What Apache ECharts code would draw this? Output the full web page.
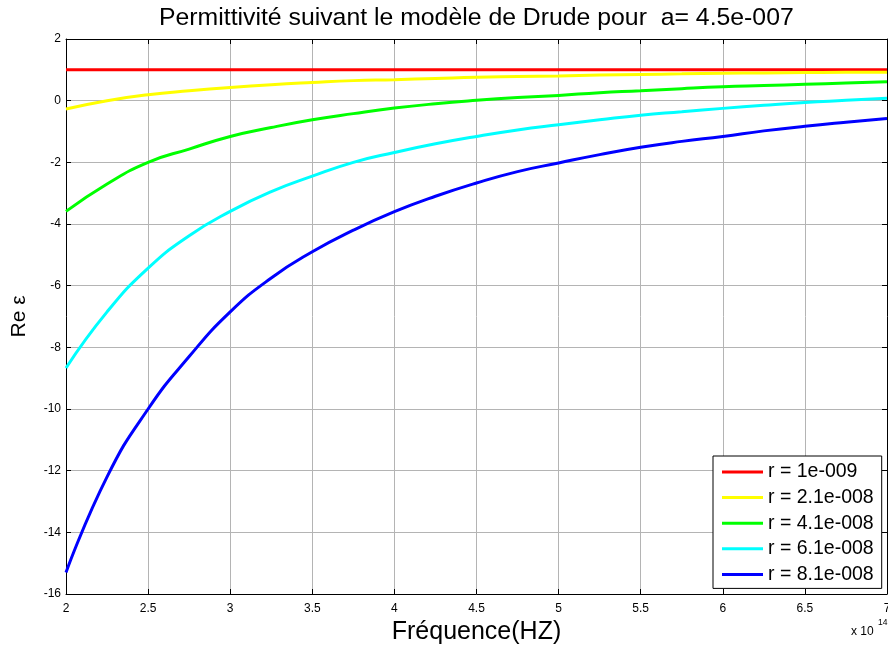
<!DOCTYPE html>
<html>
<head>
<meta charset="utf-8">
<script src="https://cdn.jsdelivr.net/npm/echarts@6/dist/echarts.min.js"></script>
<style>
html,body{margin:0;padding:0;background:#fff;}
#main{width:888px;height:646px;}
</style>
</head>
<body>
<div id="main"></div>
<script>
// fréquences (x 10^14 Hz)
var freq = [2, 2.25, 2.5, 2.75, 3, 3.25, 3.5, 3.75, 4, 4.25, 4.5, 4.75, 5, 5.25, 5.5, 5.75, 6, 6.25, 6.5, 6.75, 7];
var xTicks = ['2', '2.5', '3', '3.5', '4', '4.5', '5', '5.5', '6', '6.5', '7'];
var yTicks = ['-16', '-14', '-12', '-10', '-8', '-6', '-4', '-2', '0', '2'];

var names = ['r = 1e-009', 'r = 2.1e-008', 'r = 4.1e-008', 'r = 6.1e-008', 'r = 8.1e-008'];
var colors = ['#ff0000', '#ffff00', '#00ff00', '#00ffff', '#0000ff'];

var r1 = [1, 1, 1, 1, 1, 1, 1, 1, 1, 1, 1, 1, 1, 1, 1, 1, 1, 1, 1, 1, 1];
var r2 = [-0.27, 0.0, 0.19, 0.32, 0.43, 0.52, 0.59, 0.65, 0.68, 0.72, 0.76, 0.78, 0.80, 0.83, 0.85, 0.87, 0.89, 0.90, 0.91, 0.92, 0.92];
var r3 = [-3.59, -2.7, -2.0, -1.57, -1.16, -0.87, -0.62, -0.42, -0.24, -0.1, 0.01, 0.1, 0.17, 0.26, 0.32, 0.39, 0.45, 0.49, 0.53, 0.57, 0.61];
var r4 = [-8.67, -6.85, -5.43, -4.38, -3.59, -2.95, -2.45, -2.0, -1.68, -1.4, -1.16, -0.95, -0.78, -0.62, -0.47, -0.36, -0.25, -0.15, -0.06, 0.01, 0.08];
var r5 = [-15.3, -12.2, -10.0, -8.3, -6.85, -5.75, -4.9, -4.2, -3.6, -3.1, -2.67, -2.3, -2.02, -1.75, -1.51, -1.32, -1.16, -0.98, -0.83, -0.70, -0.58];

var allData = [r1, r2, r3, r4, r5];

var myChart = echarts.init(document.getElementById('main'));

var series = [];
for (var i = 0; i < allData.length; i++) {
	series.push({
		name: names[i],
		type: 'line',
		smooth: true,
		symbol: 'none',
		lineStyle: { color: colors[i], width: 3 },
		itemStyle: { color: colors[i] },
		data: freq.map(function (f, k) { return [f, allData[i][k]]; })
	});
}

var font = 'Liberation Sans, Arial, sans-serif';
var gridLine = { show: true, lineStyle: { color: '#b4b4b4', width: 1 } };

option = {
	backgroundColor: '#fff',
	animation: false,
	textStyle: { fontFamily: font },
	grid: { left: 66, right: 1, top: 39, bottom: 52, outerBoundsMode: 'none' },
	legend: {
		orient: 'vertical',
		left: 713,
		top: 456,
		padding: [6, 8, 4, 9],
		itemGap: 5.6,
		itemWidth: 41,
		itemHeight: 3,
		icon: 'rect',
		backgroundColor: '#fff',
		borderColor: '#000',
		borderWidth: 1,
		borderRadius: 0,
		textStyle: { fontSize: 19.5, color: '#000', fontFamily: font },
		data: names
	},
	xAxis: [
		{
			type: 'value',
			min: 2, max: 7, interval: 0.5,
			name: 'Fréquence(HZ)',
			nameLocation: 'middle',
			nameGap: 26,
			nameTextStyle: { fontSize: 25, color: '#000', fontFamily: font },
			axisLine: { show: true, onZero: false, lineStyle: { color: '#000', width: 1 } },
			axisTick: { show: true, inside: true, length: 5, lineStyle: { color: '#000' } },
			axisLabel: {
				color: '#000', fontSize: 12, margin: 9,
				formatter: function (v) { var s = String(+v.toFixed(1)); return xTicks.indexOf(s) >= 0 ? s : ''; }
			},
			splitLine: gridLine
		},
		{
			type: 'value',
			position: 'top',
			min: 2, max: 7, interval: 0.5,
			axisLine: { show: true, onZero: false, lineStyle: { color: '#000', width: 1 } },
			axisTick: { show: true, inside: true, length: 5, lineStyle: { color: '#000' } },
			axisLabel: { show: false },
			splitLine: { show: false }
		}
	],
	yAxis: [
		{
			type: 'value',
			min: -16, max: 2, interval: 2,
			name: 'Re ε',
			nameLocation: 'middle',
			nameGap: 36,
			nameRotate: 90,
			nameTextStyle: { fontSize: 21, color: '#000', fontFamily: font },
			axisLine: { show: true, onZero: false, lineStyle: { color: '#000', width: 1 } },
			axisTick: { show: true, inside: true, length: 5, lineStyle: { color: '#000' } },
			axisLabel: {
				color: '#000', fontSize: 12, margin: 5,
				formatter: function (v) { var s = String(v); return yTicks.indexOf(s) >= 0 ? s : ''; }
			},
			splitLine: gridLine
		},
		{
			type: 'value',
			position: 'right',
			min: -16, max: 2, interval: 2,
			axisLine: { show: true, onZero: false, lineStyle: { color: '#000', width: 1 } },
			axisTick: { show: true, inside: true, length: 5, lineStyle: { color: '#000' } },
			axisLabel: { show: false },
			splitLine: { show: false }
		}
	],
	graphic: [
		{
			type: 'text', left: 159, top: 6,
			style: { text: 'Permittivité suivant le modèle de Drude pour  a= 4.5e-007', font: '24.8px ' + font, fill: '#000' }
		},
		{
			type: 'text', left: 851, top: 626,
			style: { text: 'x 10', font: '12px ' + font, fill: '#000' }
		},
		{
			type: 'text', left: 878, top: 618,
			style: { text: '14', font: '8.5px ' + font, fill: '#000' }
		}
	],
	series: series
};

myChart.setOption(option);
</script>
</body>
</html>
